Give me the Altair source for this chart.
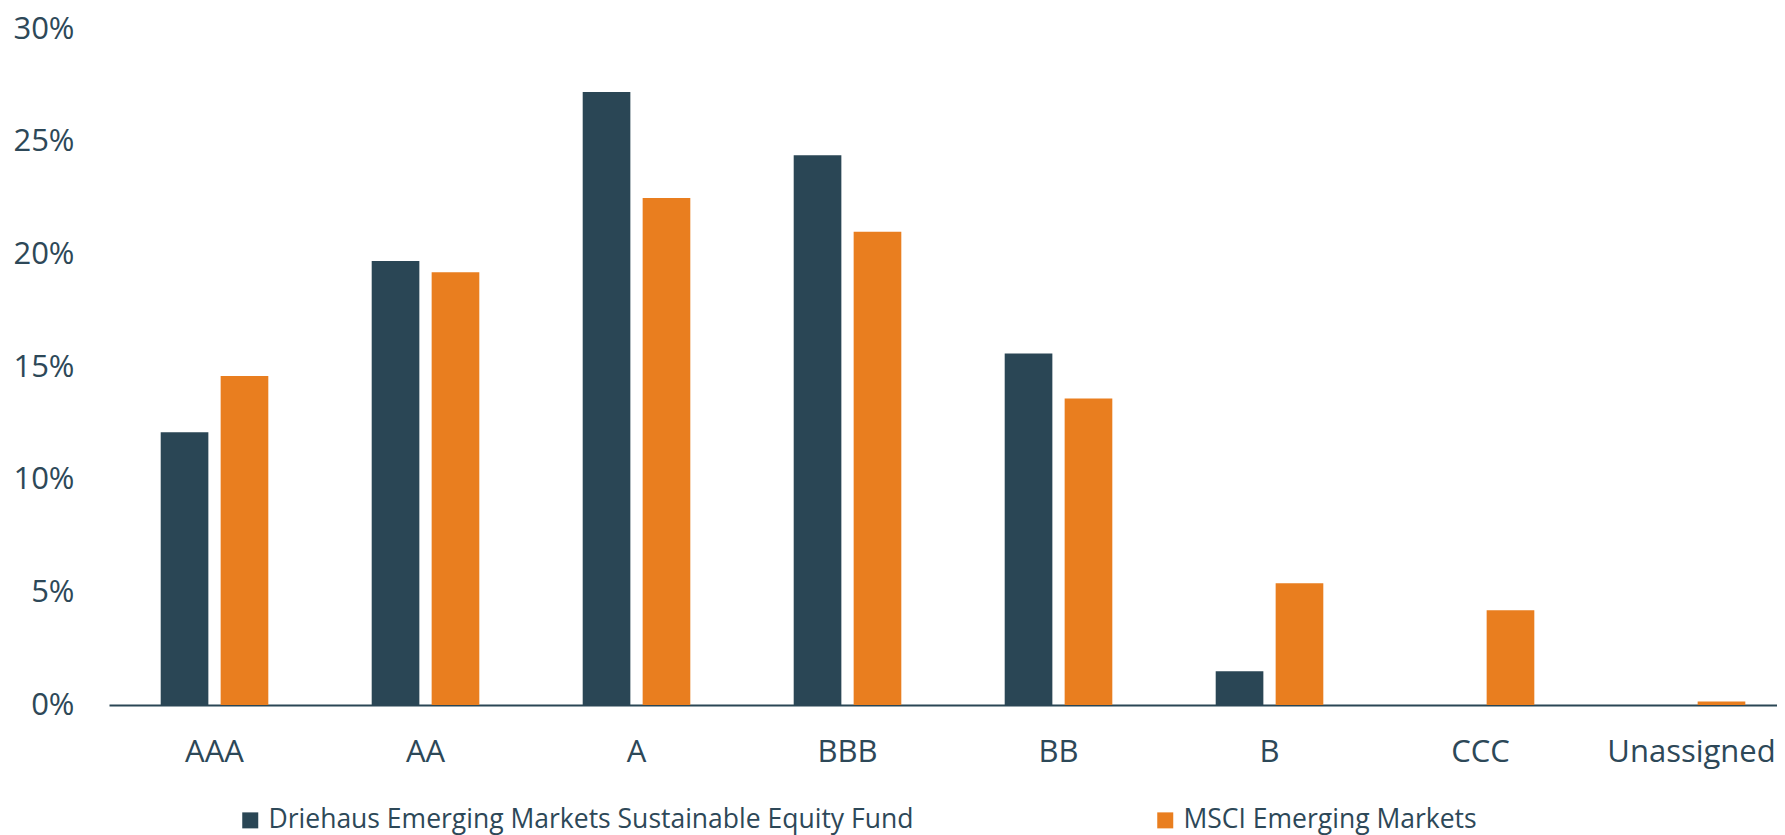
import altair as alt
import pandas as pd

categories = ["AAA", "AA", "A", "BBB", "BB", "B", "CCC", "Unassigned"]
fund_name = "Driehaus Emerging Markets Sustainable Equity Fund"
index_name = "MSCI Emerging Markets"
fund_values = [12.1, 19.7, 27.2, 24.4, 15.6, 1.5, 0.0, 0.0]
index_values = [14.6, 19.2, 22.5, 21.0, 13.6, 5.4, 4.2, 0.15]
y_ticks = [0, 5, 10, 15, 20, 25, 30]
series_names = [fund_name, index_name]
series_colors = ["#2a4655", "#e97e1f"]
text_color = "#2d4858"

rows = []
for c, f, m in zip(categories, fund_values, index_values):
    rows.append({"rating": c, "series": fund_name, "value": f})
    rows.append({"rating": c, "series": index_name, "value": m})
df = pd.DataFrame(rows)

chart = (
    alt.Chart(df)
    .mark_bar()
    .encode(
        x=alt.X(
            "rating:N",
            sort=categories,
            scale=alt.Scale(paddingInner=0.49, paddingOuter=0.1976, align=0.62),
            axis=alt.Axis(
                title=None,
                labelAngle=0,
                labelFontSize=31,
                labelPadding=32,
                labelColor=text_color,
                ticks=False,
                domainColor="#2a4655",
                domainWidth=2,
                grid=False,
            ),
        ),
        xOffset=alt.XOffset(
            "series:N",
            sort=series_names,
            scale=alt.Scale(paddingInner=0.205, paddingOuter=0),
        ),
        y=alt.Y(
            "value:Q",
            scale=alt.Scale(domain=[0, 30], nice=False),
            axis=alt.Axis(
                title=None,
                values=y_ticks,
                labelExpr="datum.value + '%'",
                labelFontSize=31,
                labelPadding=35,
                labelColor=text_color,
                ticks=False,
                domain=False,
                grid=False,
            ),
        ),
        color=alt.Color(
            "series:N",
            sort=series_names,
            scale=alt.Scale(domain=series_names, range=series_colors),
            legend=alt.Legend(
                title=None,
                orient="none",
                legendX=128,
                legendY=778,
                direction="horizontal",
                symbolType="square",
                symbolSize=256,
                symbolStrokeWidth=0,
                labelFontSize=26.5,
                labelColor=text_color,
                labelOffset=5,
                labelLimit=0,
                columnPadding=238,
                padding=0,
            ),
        ),
    )
    .properties(
        width=1668,
        height=676,
        padding={"left": 101, "top": 21, "right": 0, "bottom": 130},
        autosize=alt.AutoSizeParams(type="none"),
    )
    .configure(font="Open Sans")
    .configure_view(stroke=None)
)

chart.save("out.html", embed_options={"renderer": "svg", "actions": False})
